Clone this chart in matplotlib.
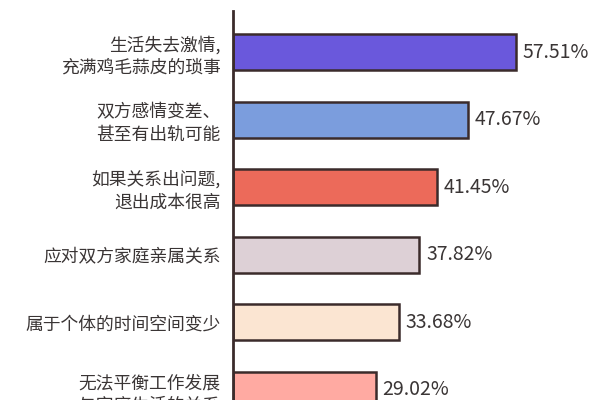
import matplotlib
matplotlib.use("Agg")
import matplotlib.pyplot as plt

plt.rcParams['font.family'] = ['Noto Sans CJK SC', 'DejaVu Sans']

categories = [
    "生活失去激情,\n充满鸡毛蒜皮的琐事",
    "双方感情变差、\n甚至有出轨可能",
    "如果关系出问题,\n退出成本很高",
    "应对双方家庭亲属关系",
    "属于个体的时间空间变少",
    "无法平衡工作发展\n与家庭生活的关系",
]
values = [57.51, 47.67, 41.45, 37.82, 33.68, 29.02]
value_labels = ["57.51%", "47.67%", "41.45%", "37.82%", "33.68%", "29.02%"]
colors = ["#6a58dc", "#7b9ddd", "#ec6a5a", "#ddd0d6", "#fbe5d2", "#ffaaa2"]

fig = plt.figure(figsize=(6, 4), dpi=100)
ax = fig.add_axes([233/600, 0, 1 - 233/600, (400 - 11)/400])

pos = list(range(len(values)))
ax.barh(pos, values, height=0.53, color=colors, edgecolor="#3b2b2b", linewidth=1.8)

ax.set_xlim(0, 367/4.92)
ax.set_ylim(5.148, -0.607)

for p, v, lab in zip(pos, values, value_labels):
    ax.text(v + 1.4, p, lab, va='center', ha='left', fontsize=14, color="#3a3535")

ax.set_yticks(pos)
ax.set_yticklabels(categories, fontsize=12.8, color="#3a3535", linespacing=1.3)
ax.tick_params(axis='y', length=0, pad=9)
ax.set_xticks([])

for s in ['top', 'right', 'bottom']:
    ax.spines[s].set_visible(False)
ax.spines['left'].set_linewidth(2)
ax.spines['left'].set_color("#3b2b2b")

fig.savefig("out.png", dpi=100)
